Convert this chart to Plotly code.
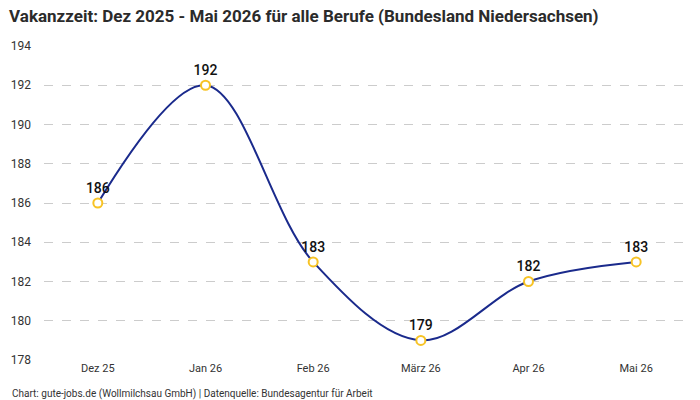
import plotly.graph_objects as go

categories = ["Dez 25", "Jan 26", "Feb 26", "März 26", "Apr 26", "Mai 26"]
values = [186, 192, 183, 179, 182, 183]
y_ticks = [178, 180, 182, 184, 186, 188, 190, 192, 194]

FONT = "Roboto, 'Noto Sans', sans-serif"

fig = go.Figure()
fig.add_trace(go.Scatter(
    x=categories, y=values,
    mode="lines+markers+text",
    line=dict(color="#1a2a8c", width=2, shape="spline", smoothing=1.0),
    marker=dict(size=9, color="white", line=dict(color="#f7c325", width=2)),
    text=[str(v) for v in values],
    textposition="top center",
    textfont=dict(size=14, color="#111111", family=FONT, weight=500),
    cliponaxis=False,
    hoverinfo="x+y",
))

fig.update_layout(
    width=700, height=400,
    margin=dict(l=44, r=10, t=46, b=40),
    plot_bgcolor="white", paper_bgcolor="white",
    font=dict(family=FONT, color="#333333", size=11),
    showlegend=False,
    title=dict(
        text="<b>Vakanzzeit: Dez 2025 - Mai 2026 für alle Berufe (Bundesland Niedersachsen)</b>",
        x=0.013, xanchor="left", y=0.975, yanchor="top",
        font=dict(size=17, color="#2b2b2b", family=FONT),
    ),
    xaxis=dict(
        type="category", range=[-0.5, 5.5],
        showgrid=False, zeroline=False, showline=False,
        ticks="", tickfont=dict(size=11, color="#333333"),
    ),
    yaxis=dict(
        range=[178, 194], tickvals=y_ticks,
        showgrid=True, gridcolor="#cccccc", griddash="dash", gridwidth=1,
        zeroline=False, showline=False, ticks="", ticklabelstandoff=12,
        tickfont=dict(size=12, color="#333333"),
    ),
    annotations=[dict(
        text="Chart: gute-jobs.de (Wollmilchsau GmbH) | Datenquelle: Bundesagentur für Arbeit",
        xref="paper", yref="paper", x=-0.053, y=-0.083, xanchor="left", yanchor="top",
        showarrow=False, font=dict(size=10, color="#333333", family=FONT),
    )],
)

fig.write_html("out.html")
